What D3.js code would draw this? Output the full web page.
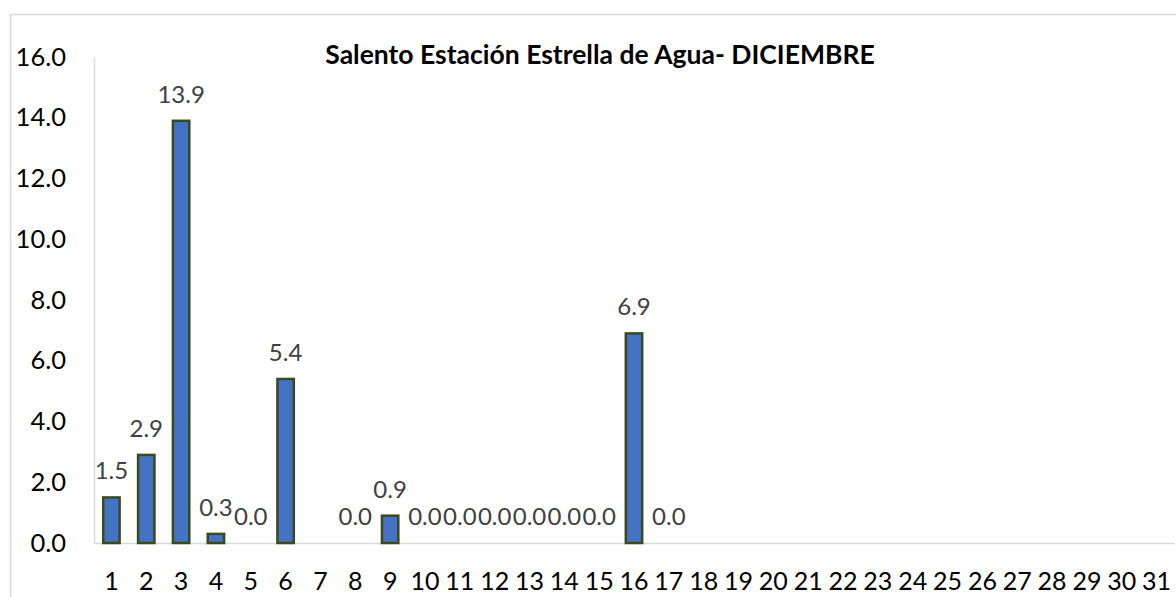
<!DOCTYPE html>
<html><head><meta charset="utf-8">
<script src="https://cdn.jsdelivr.net/npm/d3@7"></script>
<style>body{margin:0;background:#fff;}svg{display:block;font-family:Lato,"Open Sans",sans-serif;}</style>
</head><body>
<svg id="c" width="1176" height="597"></svg>
<script>
const days = d3.range(1, 32).map(String);
const values = [1.5, 2.9, 13.9, 0.3, 0.0, 5.4, null, 0.0, 0.9, 0.0, 0.0, 0.0, 0.0, 0.0, 0.0, 6.9, 0.0,
  null, null, null, null, null, null, null, null, null, null, null, null, null, null];
const yTicks = [0, 2, 4, 6, 8, 10, 12, 14, 16];
const title = "Salento Estación Estrella de Agua- DICIEMBRE";

const svg = d3.select("#c");
const W = 1176, H = 597;
const m = {left: 94, top: 57, right: 1176 - 1174, bottom: 597 - 543};

svg.append("rect").attr("x", 10.5).attr("y", 14.5).attr("width", W).attr("height", H)
  .attr("fill", "#fff").attr("stroke", "#d9d9d9").attr("stroke-width", 1.5);

const x = d3.scaleBand().domain(days).range([m.left, W - m.right]).paddingInner(0.53).paddingOuter(0.265);
const y = d3.scaleLinear().domain([0, 16]).range([H - m.bottom, m.top]);

// y axis
const ya = svg.append("g").attr("transform", `translate(${m.left},0)`)
  .call(d3.axisLeft(y).tickValues(yTicks).tickFormat(d3.format(".1f")).tickSize(0).tickPadding(28));
ya.select(".domain").attr("stroke", "#d9d9d9").attr("stroke-width", 1.5);
ya.selectAll("text").attr("font-size", 25.5).attr("fill", "#000").attr("font-family", "Lato");

// x axis
const xa = svg.append("g").attr("transform", `translate(0,${H - m.bottom})`)
  .call(d3.axisBottom(x).tickSize(0).tickPadding(29));
xa.select(".domain").attr("stroke", "#d9d9d9").attr("stroke-width", 1.5);
xa.selectAll("text").attr("font-size", 25).attr("fill", "#000").attr("font-family", "Lato").attr("dy", "0.71em");

const data = days.map((d, i) => ({day: d, v: values[i]})).filter(d => d.v !== null);

svg.append("g").selectAll("rect").data(data.filter(d => d.v > 0)).join("rect")
  .attr("x", d => x(d.day)).attr("width", x.bandwidth())
  .attr("y", d => y(d.v)).attr("height", d => y(0) - y(d.v))
  .attr("fill", "#4472c4").attr("stroke", "#3b4a1d").attr("stroke-width", 2.5);

svg.append("g").selectAll("text").data(data).join("text")
  .attr("x", d => x(d.day) + x.bandwidth() / 2).attr("y", d => y(d.v) - 18)
  .attr("text-anchor", "middle").attr("font-size", 24).attr("fill", "#404040")
  .text(d => d3.format(".1f")(d.v));

svg.append("text").attr("x", 600).attr("y", 64).attr("text-anchor", "middle")
  .attr("font-size", 26.5).attr("font-weight", "bold").attr("fill", "#000").text(title);
</script>
</body></html>
